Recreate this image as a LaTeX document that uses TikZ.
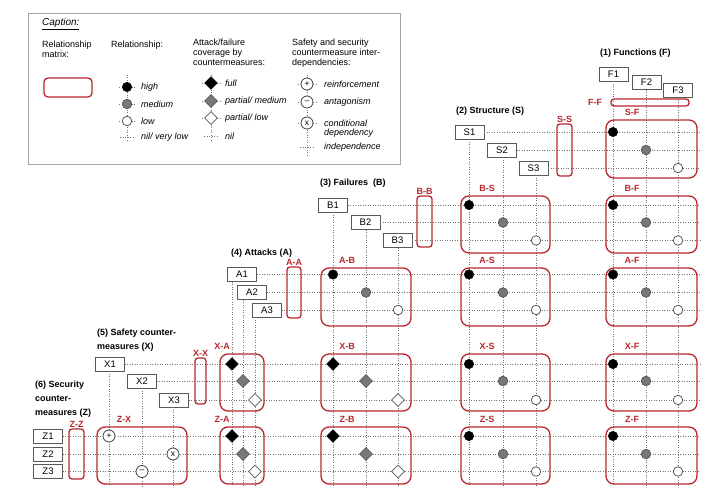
\documentclass[tikz,border=0pt]{standalone}
\usepackage{fontspec}
\setmainfont{Liberation Sans}
\usepackage{tikz}
\usetikzlibrary{shapes.geometric,calc}

\definecolor{mred}{RGB}{184,38,44}
\definecolor{dgray}{RGB}{120,120,120}

\begin{document}
\begin{tikzpicture}[x=1pt,y=-1pt,font=\fontsize{9}{10}\selectfont,
  hdr/.style={draw=black!65,fill=white,minimum width=29,minimum height=14,inner sep=0,font=\fontsize{9.5}{10}\selectfont},
  dotline/.style={black!55,dash pattern=on 0.9pt off 1.6pt,line width=0.7},
  mbox/.style={mred,line width=1.3,rounded corners=8},
  bar/.style={draw=mred,line width=1.3,rounded corners=3,inner sep=0},
  mlab/.style={text=mred,font=\fontsize{9}{10}\selectfont\bfseries,inner sep=1},
  grptitle/.style={font=\fontsize{9}{14}\selectfont\bfseries,align=left,anchor=west,inner sep=0},
  rel1/.style={circle,fill=black,draw=black,inner sep=0,minimum size=9.5},
  rel2/.style={circle,fill=dgray,draw=black!65,line width=0.8,inner sep=0,minimum size=9.5},
  rel3/.style={circle,fill=white,draw=black!65,line width=0.8,inner sep=0,minimum size=9.5},
  cov1/.style={diamond,fill=black,draw=black,inner sep=0,minimum size=13},
  cov2/.style={diamond,fill=dgray,draw=black!65,line width=0.8,inner sep=0,minimum size=13},
  cov3/.style={diamond,fill=white,draw=black!65,line width=0.8,inner sep=0,minimum size=13},
  dep/.style={circle,fill=white,draw=black!75,line width=0.8,inner sep=0,minimum size=12,font=\fontsize{8.5}{8.5}\selectfont},
  lgtxt/.style={anchor=west,inner sep=0,align=left,font=\fontsize{9}{10}\selectfont\itshape},
  captxt/.style={anchor=north west,inner sep=0,align=left}]
\useasboundingbox (0,0) rectangle (720,497);

% caption
\draw[black!35,line width=0.8] (28,13) rectangle (400,164);
\node[anchor=west,inner sep=0,font=\fontsize{10}{11}\selectfont\itshape] (cap) at (42,24) {\underline{Caption:}};
\node[captxt] (cap-m) at (42,41) {Relationship\\matrix:};
\draw[mbox,rounded corners=4] (44,78) rectangle (92,97);
\node[captxt] (cap-r) at (111,41) {Relationship:};
\node[captxt] (cap-c) at (193,39) {Attack/failure\\coverage by\\countermeasures:};
\node[captxt] (cap-d) at (292,39) {Safety and security\\countermeasure inter-\\dependencies:};
\draw[dotline] (127,75) -- (127,142);
\draw[dotline] (211,75) -- (211,142);
\draw[dotline] (307,75) -- (307,157);
\foreach \s/\y/\t [count=\i] in {rel1/87/high, rel2/104/medium, rel3/121/low} {
  \draw[dotline] (119,\y) -- (135,\y);
  \node[\s] (lr\i) at (127,\y) {};
  \node[lgtxt] (lrt\i) at (141,\y) {\t};
}
\draw[dotline] (120,137) -- (134,137);
\node[lgtxt] (lrt4) at (141,137) {nil/ very low};
\foreach \s/\y/\t [count=\i] in {cov1/83/{full}, cov2/101/{partial/ medium}, cov3/118/{partial/ low}} {
  \draw[dotline] (202,\y) -- (220,\y);
  \node[\s] (lc\i) at (211,\y) {};
  \node[lgtxt] (lct\i) at (225,\y) {\t};
}
\draw[dotline] (204,136) -- (218,136);
\node[lgtxt] (lct4) at (225,136) {nil};
\foreach \s/\y/\t [count=\i] in {+/84/reinforcement, --/102/antagonism, x/123/conditional} {
  \draw[dotline] (298,\y) -- (316,\y);
  \node[dep] (ld\i) at (307,\y) {\s};
  \node[lgtxt] (ldt\i) at (324,\y) {\t};
}
\node[lgtxt] (ldt3b) at (324,133) {dependency};
\draw[dotline] (300,147) -- (314,147);
\node[lgtxt] (ldt4) at (324,147) {independence};

% group titles
\node[grptitle] (tF) at (600,53) {(1) Functions (F)};
\node[grptitle] (tS) at (456,111) {(2) Structure (S)};
\node[grptitle] (tB) at (320,183) {(3) Failures\ \ (B)};
\node[grptitle] (tA) at (231,253) {(4) Attacks (A)};
\node[grptitle] (tX) at (97,340) {(5) Safety counter-\\measures (X)};
\node[grptitle] (tZ) at (35,399) {(6) Security\\counter-\\measures (Z)};

% element boxes: name/x/y/column line
\foreach \n/\x/\y/\l in {F1/613.5/74/613, F2/646.5/82.5/646, F3/678/90/678,
    S1/469.5/132/469, S2/502/150/503, S3/533.5/168/536,
    B1/333/205/333, B2/365.5/222.5/366, B3/397.5/240.5/398,
    A1/242/274.5/232, A2/252/292.5/243, A3/267/310/255,
    X1/110/364/109, X2/142/381/142, X3/174/400/173} {
  \node[hdr] (\n) at (\x,\y) {\n};
  \coordinate (c\n) at (\l,486);
}
\foreach \n/\y in {Z1/436, Z2/454, Z3/471.5}
  \node[hdr] (\n) at (48,\y) {\n};
\coordinate (rgt) at (700,0);

% dotted grid
\foreach \n in {F1,F2,F3,S1,S2,S3,B1,B2,B3,A1,A2,A3,X1,X2,X3}
  \draw[dotline] (\n.south -| c\n) -- (c\n);
\foreach \n in {S1,S2,S3,B1,B2,B3,A1,A2,A3,X1,X2,X3,Z1,Z2,Z3}
  \draw[dotline] (\n.east) -- (\n.east -| rgt);

% diagonal bars
\foreach \n/\x/\y/\w/\h in {SS/564.5/150/15/52, BB/424.5/221.5/15/51,
    AA/294/292.5/14/51, XX/200.5/381/11/46, ZZ/76.5/454/15/50} {
  \node[bar,minimum width=\w,minimum height=\h] (\n) at (\x,\y) {};
}
\node[mlab,anchor=south] (SS-l) at (SS.north) {S-S};
\node[mlab,anchor=south] (BB-l) at (BB.north) {B-B};
\node[mlab,anchor=south] (AA-l) at (AA.north) {A-A};
\node[mlab,anchor=south] (XX-l) at (XX.north) {X-X};
\node[mlab,anchor=south] (ZZ-l) at (ZZ.north) {Z-Z};
\node[bar,minimum width=78,minimum height=7] (FF) at (650,102.5) {};
\node[mlab,anchor=east] (FF-l) at ([xshift=-7]FF.west) {F-F};

% relationship matrices
\foreach \g/\a/\b/\t in {F/606/697/632, S/461/550/487, B/321/411/347, A/220/264/222, X/97/187/124} {
  \coordinate (\g-w) at (\a,0); \coordinate (\g-e) at (\b,0); \coordinate (\g-t) at (\t,0);
}
\foreach \g/\a/\b in {S/120/178, B/196/253, A/268/326, X/354/411, Z/427/484} {
  \coordinate (\g-n) at (0,\a); \coordinate (\g-s) at (0,\b);
}
\foreach \r/\c/\t in {S/F/rel, B/S/rel, B/F/rel, A/B/rel, A/S/rel, A/F/rel,
    X/A/cov, X/B/cov, X/S/rel, X/F/rel, Z/A/cov, Z/B/cov, Z/S/rel, Z/F/rel} {
  \draw[mbox] (\c-w |- \r-n) rectangle (\c-e |- \r-s);
  \node[mlab] (\r-\c) at ($(\c-t |- \r-n)+(0,-8)$) {\r-\c};
  \foreach \i in {1,2,3}
    \node[\t\i] (\r\c\i) at (c\c\i |- \r\i) {};
}
\draw[mbox] (X-w |- Z-n) rectangle (X-e |- Z-s);
\node[mlab] (Z-X) at ($(X-t |- Z-n)+(0,-8)$) {Z-X};
\node[dep] (ZX1) at (cX1 |- Z1) {+};
\node[dep] (ZX2) at (cX3 |- Z2) {x};
\node[dep] (ZX3) at (cX2 |- Z3) {--};
\end{tikzpicture}
\end{document}
